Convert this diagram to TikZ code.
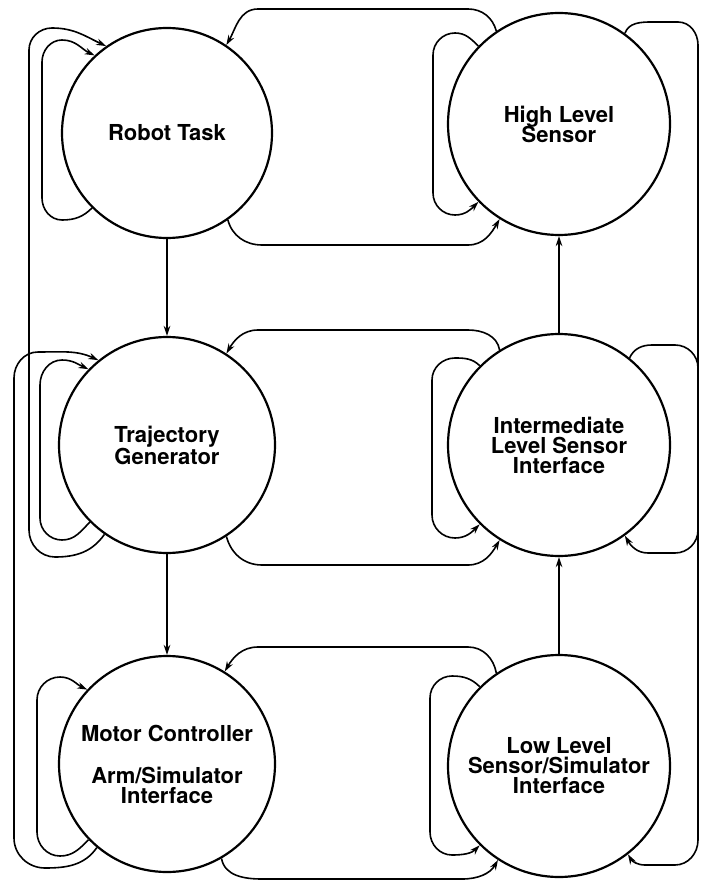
\documentclass[tikz,border=0pt]{standalone}
\usepackage{fontspec}
\setmainfont{TeX Gyre Heros}
\usetikzlibrary{arrows.meta}

\begin{document}
\begin{tikzpicture}[
    x=1pt, y=-1pt, >={Stealth[length=10pt,width=6.5pt]},
    line width=1.6pt,
    proc/.style={circle, draw, line width=2.2pt, minimum size=216pt, inner sep=0pt,
                 align=center, font=\bfseries\fontsize{22}{20}\selectfont}
]
\useasboundingbox (0,0) rectangle (701,882);

\node[proc, minimum size=210pt] (rt) at (167,133) {Robot Task};
\node[proc, minimum size=222pt] (hls) at (559,124) {High Level\\[-2pt]Sensor};
\node[proc] (tg) at (167,445) {Trajectory\\Generator};
\node[proc, minimum size=222pt] (ils) at (559,445) {Intermediate\\Level Sensor\\Interface};
\node[proc] (mc) at (167,764) {Motor Controller\\[22pt]Arm/Simulator\\Interface};
\node[proc, minimum size=222pt] (lls) at (559,766) {Low Level\\Sensor/Simulator\\Interface};

% down the left column, up the right one
\draw[->] (rt) -- (tg);
\draw[->] (tg) -- (mc);
\draw[->] (lls) -- (ils);
\draw[->] (ils) -- (hls);

% top row
\draw[->] (hls.124) to[out=105,in=0] (468,9) -- (258,9) to[out=180,in=60] (rt.56);
\draw[->] (rt.-55) to[out=-75,in=180] (262,245) -- (468,245) to[out=0,in=240] (hls.238);
\draw[->] (hls.136) to[out=135,in=0] (455,33) to[out=180,in=90] (433,55) -- (433,193)
    to[out=-90,in=180] (455,215) to[out=0,in=225] (hls.224);
\draw[->] (hls.54) to[out=70,in=180] (652,22) -- (678,22) to[out=0,in=90] (698,45) -- (698,840)
    to[out=-90,in=0] (675,865) -- (645,865) to[out=180,in=-60] (lls.-52);

% middle row
\draw[->] (ils.122) to[out=100,in=0] (468,330) -- (258,330) to[out=180,in=60] (tg.57);
\draw[->] (tg.-57) to[out=-75,in=180] (262,565) -- (468,565) to[out=0,in=240] (ils.238);
\draw[->] (ils.135) to[out=135,in=0] (455,358) to[out=180,in=90] (432,380) -- (432,515)
    to[out=-90,in=180] (455,538) to[out=0,in=225] (ils.225);
\draw[->] (ils.51) to[out=65,in=180] (652,345) -- (675,345) to[out=0,in=90] (698,368) -- (698,530)
    to[out=-90,in=0] (675,553) -- (648,553) to[out=180,in=-60] (ils.-54);

% bottom row
\draw[->] (lls.124) to[out=100,in=0] (468,647) -- (258,647) to[out=180,in=60] (mc.58);
\draw[->] (mc.-60) to[out=-80,in=180] (262,879) -- (462,879) to[out=0,in=240] (lls.237);
\draw[->] (lls.135) to[out=135,in=0] (452,676) to[out=180,in=90] (430,698) -- (430,832)
    to[out=-90,in=180] (452,855) to[out=0,in=225] (lls.225);

% left side loops
\draw[->] (rt.225) to[out=225,in=0] (62,220) to[out=180,in=-90] (42,198) -- (42,62)
    to[out=90,in=180] (62,40) to[out=0,in=155] (rt.133);
\draw[->] (tg.235) to[out=235,in=0] (55,557) to[out=180,in=-90] (29,530) -- (29,50)
    to[out=90,in=180] (52,28) to[out=0,in=155] (rt.125);
\draw[->] (tg.225) to[out=225,in=0] (62,540) to[out=180,in=-90] (40,518) -- (40,385)
    to[out=90,in=180] (62,360) to[out=0,in=155] (tg.136);
\draw[->] (mc.230) to[out=235,in=0] (45,868) to[out=180,in=-90] (14,838) -- (14,378)
    to[out=90,in=180] (38,352) to[out=0,in=155] (tg.129);
\draw[->] (mc.224) to[out=225,in=0] (60,856) to[out=180,in=-90] (37,832) -- (37,700)
    to[out=90,in=180] (60,677) to[out=0,in=155] (mc.137);
\end{tikzpicture}
\end{document}
